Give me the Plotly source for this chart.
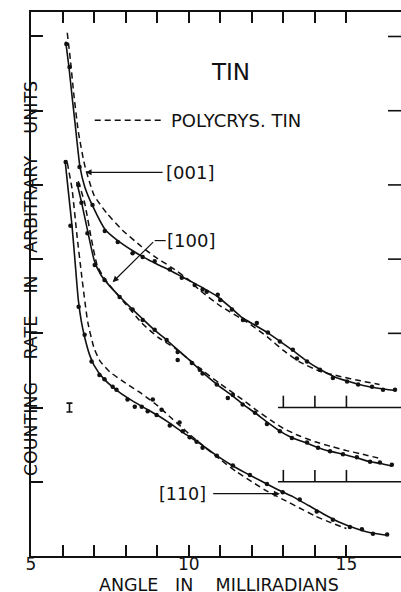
import plotly.graph_objects as go

# ---------------- data ----------------
# [001] crystal: fitted solid curve, polycrystal dashed curve, measured points
c001_x = [6.1, 6.2, 6.3, 6.4, 6.55, 6.7, 6.95, 7.35, 7.75, 8.2, 8.55, 9.0, 9.4, 9.8, 10.2, 10.5, 10.9,
          11.35, 11.7, 12.1, 12.5, 12.9, 13.3, 13.7, 14.1, 14.6, 15.0, 15.5, 16.0, 16.55]
c001_y = [6.93, 6.60, 6.20, 5.82, 5.25, 4.98, 4.72, 4.40, 4.25, 4.12, 4.03, 3.93, 3.85, 3.76, 3.67, 3.60, 3.50,
          3.34, 3.21, 3.11, 3.01, 2.89, 2.77, 2.64, 2.53, 2.42, 2.36, 2.30, 2.26, 2.23]
p001_x = [6.15, 6.25, 6.35, 6.5, 6.7, 7.0, 7.4, 7.9, 8.5, 8.9, 9.45, 10.0, 10.35, 11.0, 11.85, 12.5,
          13.0, 13.5, 14.15, 14.8, 15.45, 16.05]
p001_y = [7.05, 6.68, 6.25, 5.72, 5.27, 4.86, 4.62, 4.39, 4.17, 4.04, 3.89, 3.72, 3.58, 3.37, 3.15, 2.95,
          2.77, 2.62, 2.49, 2.42, 2.36, 2.31]
d001_x = [6.12, 6.22, 6.54, 6.95, 7.34, 7.75, 8.22, 8.54, 8.92, 9.40, 9.78, 10.19, 10.44, 10.57, 10.92, 11.0,
          11.37, 11.72, 12.16, 12.51, 12.89, 13.30, 13.43, 13.75, 14.16, 14.57, 15.02, 15.37, 15.81, 16.16, 16.54]
d001_y = [6.90, 6.59, 5.24, 4.73, 4.38, 4.23, 4.08, 4.03, 3.97, 3.86, 3.75, 3.65, 3.59, 3.56, 3.52, 3.45,
          3.32, 3.18, 3.14, 3.01, 2.89, 2.78, 2.66, 2.62, 2.51, 2.40, 2.35, 2.31, 2.28, 2.24, 2.24]

# [100] crystal
c100_x = [6.45, 6.6, 6.8, 7.0, 7.2, 7.45, 7.8, 8.2, 8.55, 8.9, 9.3, 9.7, 10.1, 10.45, 10.9, 11.35, 11.7,
          12.1, 12.5, 12.9, 13.3, 13.75, 14.1, 14.5, 14.9, 15.35, 15.75, 16.05, 16.45]
c100_y = [5.04, 4.77, 4.37, 3.99, 3.80, 3.66, 3.50, 3.33, 3.19, 3.05, 2.91, 2.76, 2.61, 2.47, 2.31, 2.17, 2.05,
          1.93, 1.80, 1.68, 1.59, 1.52, 1.46, 1.41, 1.37, 1.32, 1.27, 1.25, 1.21]
p100_x = [6.5, 6.7, 6.92, 7.11, 7.43, 7.97, 8.51, 9.02, 9.56, 10.0, 10.5, 11.0, 11.7, 12.1, 12.6, 13.0,
          13.5, 14.0, 14.57, 15.0, 15.43, 16.1]
p100_y = [5.05, 4.76, 4.26, 3.90, 3.68, 3.41, 3.14, 2.95, 2.80, 2.65, 2.48, 2.32, 2.11, 1.98, 1.83, 1.72,
          1.62, 1.54, 1.47, 1.42, 1.38, 1.31]
d100_x = [6.5, 6.60, 6.79, 7.02, 7.33, 7.81, 8.22, 8.54, 8.92, 9.30, 9.65, 9.65, 10.10, 10.35, 10.44, 10.89,
          11.24, 11.40, 11.71, 12.10, 12.48, 12.89, 13.27, 13.75, 14.10, 14.48, 14.89, 15.33, 15.75, 16.06, 16.44]
d100_y = [5.0, 4.76, 4.35, 3.92, 3.72, 3.49, 3.32, 3.18, 3.05, 2.91, 2.75, 2.64, 2.60, 2.51, 2.46, 2.31,
          2.13, 2.17, 2.04, 1.93, 1.78, 1.68, 1.59, 1.53, 1.46, 1.41, 1.37, 1.33, 1.27, 1.26, 1.23]

# [110] crystal
c110_x = [6.08, 6.2, 6.3, 6.4, 6.5, 6.6, 6.7, 6.85, 7.0, 7.3, 7.7, 8.1, 8.5, 9.0, 9.4, 9.8, 10.3, 10.8,
          11.3, 11.8, 12.3, 12.8, 13.3, 13.8, 14.3, 14.8, 15.3, 15.8, 16.3]
c110_y = [5.33, 4.85, 4.45, 3.95, 3.45, 3.15, 2.95, 2.72, 2.57, 2.39, 2.24, 2.12, 2.02, 1.90, 1.79, 1.67,
          1.53, 1.38, 1.24, 1.12, 1.01, 0.90, 0.80, 0.68, 0.56, 0.45, 0.37, 0.31, 0.28]
p110_x = [6.15, 6.3, 6.45, 6.6, 6.8, 7.0, 7.2, 7.5, 8.0, 8.5, 9.0, 9.5, 10.0, 10.5, 11.0, 11.5, 12.0,
          12.5, 13.0, 13.5, 14.0, 14.5, 15.0]
p110_y = [5.30, 4.95, 4.35, 3.80, 3.15, 2.80, 2.62, 2.48, 2.33, 2.19, 2.03, 1.84, 1.65, 1.47, 1.30, 1.14, 1.00,
          0.87, 0.76, 0.65, 0.54, 0.45, 0.37]
d110_x = [6.10, 6.25, 6.51, 6.70, 6.92, 7.17, 7.33, 7.59, 7.71, 8.06, 8.29, 8.51, 8.70, 8.86, 8.98, 9.14,
          9.40, 9.71, 9.81, 10.03, 10.25, 10.44, 10.89, 11.40, 11.94, 12.48, 12.98, 13.52, 14.06, 14.57,
          15.11, 15.49, 15.84, 16.29]
d110_y = [5.31, 4.45, 3.36, 2.98, 2.62, 2.44, 2.38, 2.28, 2.24, 2.11, 2.01, 2.01, 1.95, 2.11, 1.90, 1.97,
          1.76, 1.80, 1.68, 1.60, 1.54, 1.46, 1.35, 1.22, 1.09, 0.97, 0.86, 0.76, 0.60, 0.49,
          0.39, 0.36, 0.30, 0.29]

# statistical error bar
err_x = [6.22]
err_y = [2.0]
err_half = [0.06]

# axes / ticks
x_range = [5, 16.73]
y_range = [0, 7.33]
x_tickvals = [5, 6, 7, 8, 9, 10, 11, 12, 13, 14, 15]
x_ticktext = ["5", "", "", "", "", "10", "", "", "", "", "15"]
y_tickvals = [1, 2, 3, 4, 5, 6, 7]
right_tick_levels = [3, 4, 5, 6, 7]
# offset zero lines of shifted curves
baseline_levels = [1, 2]
baseline_start = 12.83
baseline_ticks = [13, 14, 15]

FONT = "DejaVu Sans"
BLACK = "#111111"

fig = go.Figure()

def add_curve(cx, cy, px, py, dx, dy):
    fig.add_trace(go.Scatter(x=px, y=py, mode="lines",
                             line=dict(color=BLACK, width=1.5, dash="6px,4px", shape="spline", smoothing=0.5),
                             hoverinfo="skip", showlegend=False))
    fig.add_trace(go.Scatter(x=cx, y=cy, mode="lines",
                             line=dict(color=BLACK, width=1.6, shape="spline", smoothing=0.5),
                             hoverinfo="skip", showlegend=False))
    fig.add_trace(go.Scatter(x=dx, y=dy, mode="markers",
                             marker=dict(color=BLACK, size=4.5),
                             hoverinfo="skip", showlegend=False))

add_curve(c001_x, c001_y, p001_x, p001_y, d001_x, d001_y)
add_curve(c100_x, c100_y, p100_x, p100_y, d100_x, d100_y)
add_curve(c110_x, c110_y, p110_x, p110_y, d110_x, d110_y)

fig.add_trace(go.Scatter(x=err_x, y=err_y, mode="markers",
                         marker=dict(color=BLACK, size=1),
                         error_y=dict(type="data", array=err_half, width=3, thickness=1.6, color=BLACK),
                         hoverinfo="skip", showlegend=False))

# legend sample line for the polycrystal curve
fig.add_trace(go.Scatter(x=[7.02, 9.24], y=[5.87, 5.87], mode="lines",
                         line=dict(color=BLACK, width=1.5, dash="6px,4px"),
                         hoverinfo="skip", showlegend=False))

shapes = []
for lvl in baseline_levels:
    shapes.append(dict(type="line", xref="x", yref="y", x0=baseline_start, x1=x_range[1], y0=lvl, y1=lvl,
                       line=dict(color=BLACK, width=1.6)))
    for t in baseline_ticks:
        shapes.append(dict(type="line", xref="x", yref="y", x0=t, x1=t, y0=lvl, y1=lvl + 0.16,
                           line=dict(color=BLACK, width=1.6)))
for lvl in right_tick_levels:
    shapes.append(dict(type="line", xref="paper", yref="y", x0=1 - 13 / 370, x1=1, y0=lvl, y1=lvl,
                       line=dict(color=BLACK, width=1.6)))
# bent leader of the [100] label
shapes.append(dict(type="line", xref="x", yref="y", x0=9.27, x1=8.92, y0=4.25, y1=4.25,
                   line=dict(color=BLACK, width=1.2)))

NB = "\u00a0"
annotations = [
    dict(x=11.33, y=6.52, xref="x", yref="y", text="TIN", showarrow=False,
         font=dict(family=FONT, size=23, color=BLACK)),
    dict(x=9.37, y=5.87, xref="x", yref="y", text="POLYCRYS." + NB + "TIN", showarrow=False,
         xanchor="left", font=dict(family=FONT, size=18, color=BLACK)),
    dict(x=9.22, y=5.17, xref="x", yref="y", text="[001]", showarrow=False, xanchor="left",
         font=dict(family=FONT, size=18, color=BLACK)),
    dict(x=9.24, y=4.25, xref="x", yref="y", text="[100]", showarrow=False, xanchor="left",
         font=dict(family=FONT, size=18, color=BLACK)),
    dict(x=10.62, y=0.84, xref="x", yref="y", text="[110]", showarrow=False, xanchor="right",
         font=dict(family=FONT, size=17.5, color=BLACK)),
    # arrows
    dict(x=6.73, y=5.17, ax=9.22, ay=5.17, xref="x", yref="y", axref="x", ayref="y", text="",
         showarrow=True, arrowhead=2, arrowsize=1, arrowwidth=1.2, arrowcolor=BLACK),
    dict(x=7.59, y=3.69, ax=8.92, ay=4.25, xref="x", yref="y", axref="x", ayref="y", text="",
         showarrow=True, arrowhead=2, arrowsize=1, arrowwidth=1.2, arrowcolor=BLACK),
    dict(x=12.89, y=0.84, ax=10.73, ay=0.84, xref="x", yref="y", axref="x", ayref="y", text="",
         showarrow=True, arrowhead=2, arrowsize=1, arrowwidth=1.2, arrowcolor=BLACK),
    # axis titles
    dict(x=0.508, y=-0.0525, xref="paper", yref="paper", showarrow=False, yanchor="middle",
         text="ANGLE" + NB * 3 + "IN" + NB * 4 + "MILLIRADIANS",
         font=dict(family=FONT, size=17.5, color=BLACK)),
    dict(x=-0.032, y=0.509, xref="paper", yref="paper", showarrow=False, textangle=-90,
         text="COUNTING" + NB * 4 + "RATE" + NB * 4 + "IN" + NB * 4 + "ARBITRARY" + NB * 4 + "UNITS",
         font=dict(family=FONT, size=17.5, color=BLACK)),
]

fig.update_layout(
    width=401, height=592,
    margin=dict(l=31, r=0, t=12, b=36),
    paper_bgcolor="white", plot_bgcolor="white",
    showlegend=False,
    shapes=shapes,
    annotations=annotations,
    xaxis=dict(range=x_range, tickvals=x_tickvals, ticktext=x_ticktext, ticks="inside", ticklen=11,
               tickwidth=1.6, tickcolor=BLACK, showline=True, linewidth=2, linecolor=BLACK,
               mirror="ticks", showgrid=False, zeroline=False, ticklabelstandoff=-8,
               tickfont=dict(family=FONT, size=17, color=BLACK)),
    yaxis=dict(range=y_range, tickvals=y_tickvals, showticklabels=False, ticks="inside", ticklen=12,
               tickwidth=1.6, tickcolor=BLACK, showline=True, linewidth=2, linecolor=BLACK,
               mirror=False, showgrid=False, zeroline=False),
)

fig.write_html("out.html",
               config={"displayModeBar": False},
               post_script="document.body.style.margin='0';document.body.style.padding='0';"
                           "document.body.style.overflow='hidden';")
